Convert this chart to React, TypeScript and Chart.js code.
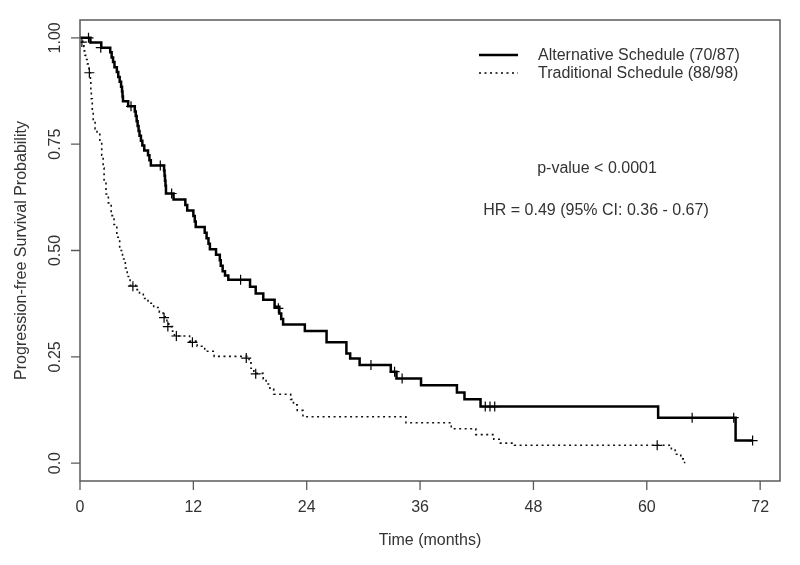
import React, { useEffect, useRef } from "react";
import { Chart, registerables } from "chart.js";

Chart.register(...registerables);

// ---- data ----
const seriesNames = ["Alternative Schedule (70/87)", "Traditional Schedule (88/98)"];

// Kaplan-Meier steps: [time (months), survival after step]
const altTimes = [0, 1.1, 2.25, 3.2, 3.35, 3.5, 3.65, 3.9, 4.05, 4.2, 4.35, 4.45, 4.5, 4.55, 5.1, 5.8, 5.9, 6.0, 6.1, 6.2, 6.3, 6.45, 6.6, 6.8, 7.2, 7.35, 7.5, 8.9, 8.95, 9.0, 9.05, 9.1, 9.9, 11.15, 11.35, 12.0, 12.15, 12.25, 13.2, 13.4, 13.6, 13.75, 14.4, 14.8, 14.9, 15.1, 15.35, 15.7, 18.0, 18.6, 19.4, 20.6, 21.1, 21.3, 21.5, 23.8, 26.1, 28.2, 28.6, 29.6, 32.9, 33.5, 36.1, 39.9, 40.7, 42.4, 61.2, 69.4, 71.2];
const altSurv = [1.0, 0.989, 0.977, 0.966, 0.954, 0.943, 0.931, 0.92, 0.908, 0.897, 0.885, 0.874, 0.862, 0.851, 0.839, 0.827, 0.816, 0.804, 0.793, 0.781, 0.77, 0.758, 0.747, 0.735, 0.724, 0.712, 0.7, 0.688, 0.676, 0.664, 0.652, 0.634, 0.62, 0.607, 0.594, 0.581, 0.568, 0.555, 0.542, 0.529, 0.516, 0.503, 0.49, 0.477, 0.464, 0.451, 0.441, 0.431, 0.415, 0.399, 0.384, 0.368, 0.352, 0.339, 0.326, 0.311, 0.284, 0.258, 0.246, 0.231, 0.215, 0.199, 0.183, 0.166, 0.15, 0.133, 0.107, 0.053, 0.053];

const tradTimes = [0, 0.3, 0.4, 0.45, 0.5, 0.6, 0.75, 0.85, 0.95, 1.1, 1.15, 1.2, 1.3, 1.4, 1.6, 1.8, 2.1, 2.3, 2.45, 2.55, 2.75, 3.0, 3.3, 3.6, 3.9, 4.2, 4.5, 4.8, 5.0, 5.3, 5.9, 6.3, 6.7, 7.2, 7.8, 8.4, 8.8, 9.2, 9.4, 9.8, 10.0, 11.6, 12.4, 13.2, 14.2, 17.9, 18.1, 18.4, 19.4, 19.7, 20.1, 20.5, 22.3, 22.6, 23.0, 23.6, 34.5, 39.3, 41.9, 43.8, 44.5, 46.0, 62.6, 63.0, 63.6, 64.0];
const tradSurv = [1.0, 0.99, 0.98, 0.969, 0.959, 0.949, 0.939, 0.929, 0.918, 0.898, 0.878, 0.857, 0.827, 0.806, 0.786, 0.776, 0.755, 0.724, 0.694, 0.663, 0.633, 0.612, 0.582, 0.561, 0.531, 0.5, 0.48, 0.459, 0.439, 0.418, 0.408, 0.397, 0.387, 0.376, 0.366, 0.355, 0.344, 0.333, 0.321, 0.31, 0.299, 0.287, 0.275, 0.263, 0.251, 0.236, 0.223, 0.211, 0.198, 0.186, 0.174, 0.162, 0.15, 0.137, 0.124, 0.109, 0.095, 0.081, 0.067, 0.056, 0.047, 0.042, 0.031, 0.021, 0.01, 0.0];

// censoring marks
const altCensorT = [0.9, 2.2, 5.4, 8.5, 9.7, 17.0, 21.0, 30.8, 33.3, 34.1, 42.9, 43.4, 43.9, 64.8, 69.2, 71.2];
const altCensorS = [1.0, 0.977, 0.839, 0.7, 0.634, 0.431, 0.364, 0.231, 0.215, 0.199, 0.133, 0.133, 0.133, 0.107, 0.107, 0.053];
const tradCensorT = [0.2, 0.99, 5.6, 8.9, 9.3, 10.2, 11.9, 17.6, 18.6, 61.1];
const tradCensorS = [0.99, 0.918, 0.416, 0.342, 0.321, 0.299, 0.284, 0.247, 0.21, 0.042];

const xTicks = [0, 12, 24, 36, 48, 60, 72];
const yTicks = [0, 0.25, 0.5, 0.75, 1.0];
const yTickLabels = ["0.0", "0.25", "0.50", "0.75", "1.00"];
const xTitle = "Time (months)";
const yTitle = "Progression-free Survival Probability";
const pText = "p-value < 0.0001";
const hrText = "HR = 0.49 (95% CI: 0.36 - 0.67)";

const FONT = '16px "Liberation Sans", Arial, sans-serif';
const TEXT = "#333333";
const AXIS = "#5a5a5a";
const DOTS = [2, 3.5];

const toPts = (t: number[], s: number[]) => t.map((v, i) => ({ x: v, y: s[i] }));

const decorPlugin = {
  id: "decor",
  afterDraw(chart: any) {
    const { ctx, chartArea: a, scales } = chart;
    const xs = scales.x;
    const ys = scales.y;
    ctx.save();
    // box
    ctx.strokeStyle = AXIS;
    ctx.lineWidth = 1.5;
    ctx.strokeRect(a.left, a.top, a.right - a.left, a.bottom - a.top);
    // ticks
    ctx.lineWidth = 1.3;
    ctx.beginPath();
    xTicks.forEach((v) => {
      const px = xs.getPixelForValue(v);
      ctx.moveTo(px, a.bottom);
      ctx.lineTo(px, a.bottom + 9);
    });
    yTicks.forEach((v) => {
      const py = ys.getPixelForValue(v);
      ctx.moveTo(a.left, py);
      ctx.lineTo(a.left - 9, py);
    });
    ctx.stroke();
    // tick labels
    ctx.fillStyle = TEXT;
    ctx.font = FONT;
    ctx.textAlign = "center";
    ctx.textBaseline = "middle";
    xTicks.forEach((v) => {
      ctx.fillText(String(v), xs.getPixelForValue(v), a.bottom + 27);
    });
    yTicks.forEach((v, i) => {
      ctx.save();
      ctx.translate(a.left - 24, ys.getPixelForValue(v));
      ctx.rotate(-Math.PI / 2);
      ctx.fillText(yTickLabels[i], 0, 0);
      ctx.restore();
    });
    // axis titles
    ctx.fillText(xTitle, (a.left + a.right) / 2, a.bottom + 60);
    ctx.save();
    ctx.translate(a.left - 58, (a.top + a.bottom) / 2);
    ctx.rotate(-Math.PI / 2);
    ctx.fillText(yTitle, 0, 0);
    ctx.restore();
    // legend
    const lx0 = 479, lx1 = 518, ly = 55, gap = 18;
    ctx.strokeStyle = "#000";
    ctx.lineWidth = 2.5;
    ctx.beginPath();
    ctx.moveTo(lx0, ly);
    ctx.lineTo(lx1, ly);
    ctx.stroke();
    ctx.lineWidth = 1.6;
    ctx.setLineDash(DOTS);
    ctx.beginPath();
    ctx.moveTo(lx0, ly + gap);
    ctx.lineTo(lx1, ly + gap);
    ctx.stroke();
    ctx.setLineDash([]);
    ctx.textAlign = "left";
    ctx.fillText(seriesNames[0], 538, ly + 1);
    ctx.fillText(seriesNames[1], 538, ly + gap + 1);
    // annotations
    ctx.textAlign = "center";
    ctx.fillText(pText, 597, 169);
    ctx.fillText(hrText, 596, 211);
    ctx.restore();
  },
};

export default function App() {
  const ref = useRef<HTMLCanvasElement | null>(null);
  useEffect(() => {
    if (!ref.current) return;
    const chart = new Chart(ref.current, {
      type: "line",
      data: {
        datasets: [
          {
            label: seriesNames[0],
            data: toPts(altTimes, altSurv),
            borderColor: "#000",
            borderWidth: 2.5,
            pointRadius: 0,
            stepped: true,
            fill: false,
          } as any,
          {
            label: seriesNames[1],
            data: toPts(tradTimes, tradSurv),
            borderColor: "#111",
            borderWidth: 1.6,
            borderDash: DOTS,
            pointRadius: 0,
            stepped: true,
            fill: false,
          } as any,
          {
            label: "alt-censor",
            data: toPts(altCensorT, altCensorS),
            showLine: false,
            pointStyle: "cross",
            pointRadius: 5,
            borderColor: "#000",
            borderWidth: 1.2,
          } as any,
          {
            label: "trad-censor",
            data: toPts(tradCensorT, tradCensorS),
            showLine: false,
            pointStyle: "cross",
            pointRadius: 5,
            borderColor: "#000",
            borderWidth: 1.2,
          } as any,
        ],
      },
      options: {
        animation: false,
        responsive: false,
        devicePixelRatio: 1,
        layout: { padding: { left: 80, top: 20, right: 20, bottom: 84 } },
        plugins: { legend: { display: false }, tooltip: { enabled: false } },
        scales: {
          x: { type: "linear", min: 0, max: 74.1, display: false },
          y: { type: "linear", min: -0.042, max: 1.042, display: false },
        },
      },
      plugins: [decorPlugin],
    });
    return () => chart.destroy();
  }, []);
  return (
    <div style={{ position: "fixed", left: 0, top: 0, width: 800, height: 565, background: "#fff" }}>
      <canvas ref={ref} width={800} height={565} style={{ display: "block" }} />
    </div>
  );
}
